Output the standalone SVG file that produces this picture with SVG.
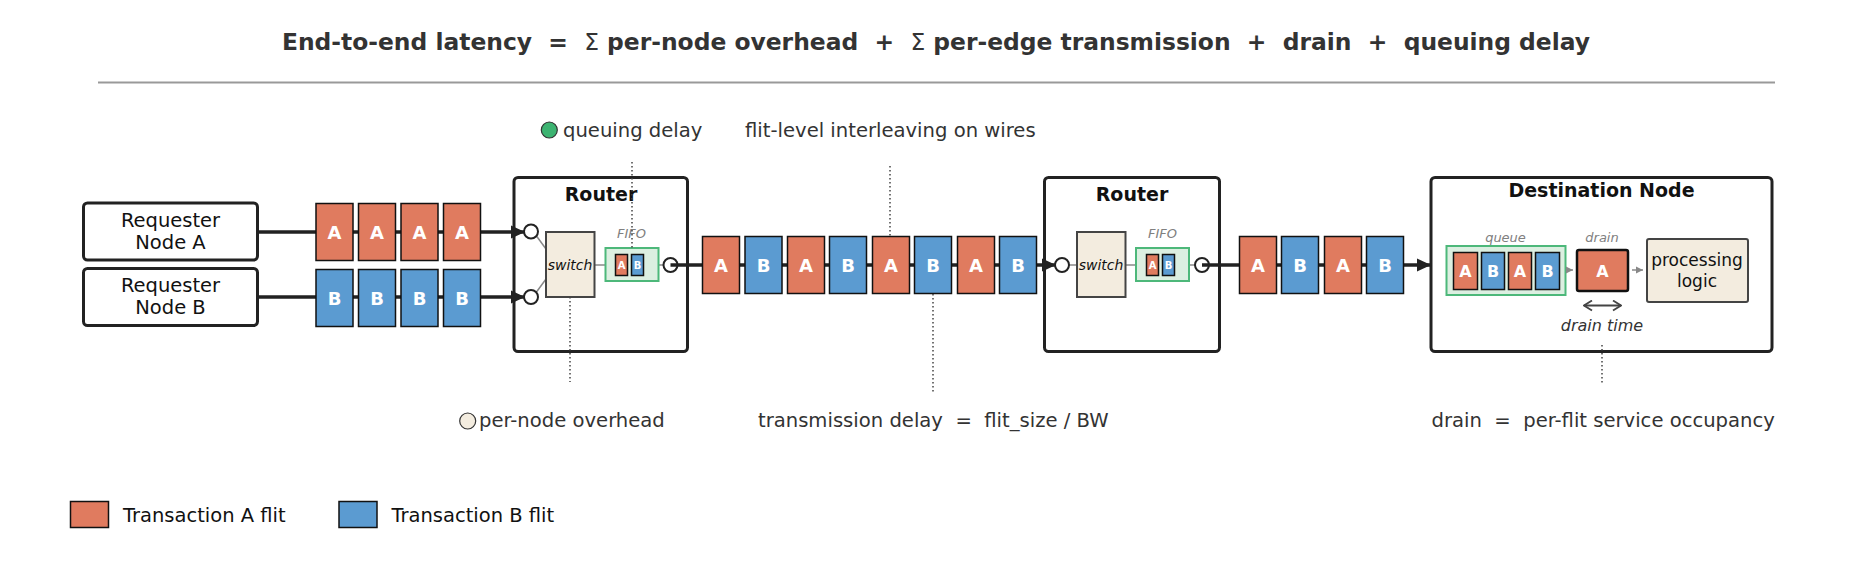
<svg xmlns="http://www.w3.org/2000/svg" width="1872" height="566" viewBox="0 0 1872 566">
<style>
text{font-family:"DejaVu Sans","Liberation Sans",sans-serif;}
.title{font-size:23.4px;font-weight:bold;fill:#333;}
.ann{font-size:19.6px;fill:#333;}
.box{fill:#fff;stroke:#222;stroke-width:3;}
.hdr{font-size:19px;font-weight:bold;fill:#111;}
.lbl{font-size:19.5px;fill:#111;}
.fa{fill:#E07B5F;stroke:#111;stroke-width:1.5;}
.fb{fill:#5B9BD1;stroke:#111;stroke-width:1.5;}
.ft{font-size:18px;font-weight:bold;fill:#fff;text-anchor:middle;}
.ftm{font-size:10px;font-weight:bold;fill:#fff;text-anchor:middle;}
.ftq{font-size:16px;font-weight:bold;fill:#fff;text-anchor:middle;}
.wire{stroke:#222;stroke-width:3.5;fill:none;}
.thin{stroke:#888;stroke-width:1.5;fill:none;}
.port{fill:#fff;stroke:#222;stroke-width:2;}
.sw{fill:#F3ECDF;stroke:#444;stroke-width:2;}
.fifo{fill:#DCEFE1;stroke:#4DB87A;stroke-width:2;}
.it{font-style:italic;font-size:13px;fill:#808080;text-anchor:middle;}
.dot{stroke:#444;stroke-width:1.5;stroke-dasharray:1.5 2.5;fill:none;}
</style>
<defs>
<marker id="ah" markerUnits="userSpaceOnUse" markerWidth="15" markerHeight="14" refX="14" refY="7" orient="auto"><path d="M0,0.5 L14,7 L0,13.5 z" fill="#222"/></marker>
<marker id="sh" markerUnits="userSpaceOnUse" markerWidth="8" markerHeight="8" refX="7" refY="4" orient="auto"><path d="M0,0.5 L7,4 L0,7.5 z" fill="#888"/></marker>
<marker id="oh" markerUnits="userSpaceOnUse" markerWidth="10" markerHeight="12" refX="9" refY="6" orient="auto-start-reverse"><path d="M1,1 L9,6 L1,11" fill="none" stroke="#444" stroke-width="1.8"/></marker>
</defs>

<g id="title">
<text class="title" x="936" y="50" text-anchor="middle" xml:space="preserve">End-to-end latency  =  <tspan font-weight="normal">Σ</tspan> per-node overhead  +  <tspan font-weight="normal">Σ</tspan> per-edge transmission  +  drain  +  queuing delay</text>
<line x1="98" y1="82.5" x2="1775" y2="82.5" stroke="#999" stroke-width="2"/>
</g>

<g id="requesterA">
<rect class="box" x="83.5" y="203" width="174" height="57" rx="4"/>
<text class="lbl" x="170.5" y="226.5" text-anchor="middle">Requester</text>
<text class="lbl" x="170.5" y="248.5" text-anchor="middle">Node A</text>
</g>
<g id="requesterB">
<rect class="box" x="83.5" y="268.5" width="174" height="57" rx="4"/>
<text class="lbl" x="170.5" y="292" text-anchor="middle">Requester</text>
<text class="lbl" x="170.5" y="314" text-anchor="middle">Node B</text>
</g>

<g id="router1">
<rect class="box" x="514" y="177.5" width="173.5" height="174" rx="4"/>
<text class="hdr" x="601" y="200.5" text-anchor="middle">Router</text>
<line class="thin" x1="536.5" y1="236" x2="546" y2="249"/>
<line class="thin" x1="536.5" y1="292" x2="546" y2="279"/>
<line class="thin" x1="594.5" y1="265" x2="605" y2="265"/>
<line class="thin" x1="658.5" y1="265" x2="663" y2="265"/>
<circle class="port" cx="531" cy="231.5" r="7"/>
<circle class="port" cx="531" cy="297" r="7"/>
<rect class="sw" x="546" y="232" width="48.5" height="65"/>
<text x="570" y="270" font-size="14" font-style="italic" fill="#111" text-anchor="middle">switch</text>
<text class="it" x="631.5" y="238">FIFO</text>
<rect class="fifo" x="605.5" y="248" width="53" height="33"/>
<rect class="fa" x="615.5" y="254.5" width="12" height="21"/><text class="ftm" x="621.5" y="268.5">A</text>
<rect class="fb" x="631.5" y="254.5" width="12" height="21"/><text class="ftm" x="637.5" y="268.5">B</text>
<circle class="port" cx="670.5" cy="265" r="7"/>
</g>

<g id="router2">
<rect class="box" x="1044.5" y="177.5" width="175" height="174" rx="4"/>
<text class="hdr" x="1132" y="200.5" text-anchor="middle">Router</text>
<line class="thin" x1="1069" y1="265" x2="1077" y2="265"/>
<line class="thin" x1="1125.5" y1="265" x2="1136" y2="265"/>
<line class="thin" x1="1189" y1="265" x2="1195" y2="265"/>
<circle class="port" cx="1062" cy="265" r="7"/>
<rect class="sw" x="1077" y="232" width="48.5" height="65"/>
<text x="1101" y="270" font-size="14" font-style="italic" fill="#111" text-anchor="middle">switch</text>
<text class="it" x="1162.5" y="238">FIFO</text>
<rect class="fifo" x="1136" y="248" width="53" height="33"/>
<rect class="fa" x="1146.5" y="254.5" width="12" height="21"/><text class="ftm" x="1152.5" y="268.5">A</text>
<rect class="fb" x="1162.5" y="254.5" width="12" height="21"/><text class="ftm" x="1168.5" y="268.5">B</text>
<circle class="port" cx="1202" cy="265" r="7"/>
</g>

<g id="destination">
<rect class="box" x="1431" y="177.5" width="341" height="174" rx="4"/>
<text class="hdr" x="1601.5" y="197" text-anchor="middle">Destination Node</text>
<text class="it" x="1505.5" y="241.5">queue</text>
<rect class="fifo" x="1446.5" y="246" width="119" height="49"/>
<rect class="fa" x="1453.5" y="252.5" width="24" height="37"/><text class="ftq" x="1465.5" y="276.5">A</text>
<rect class="fb" x="1481.5" y="252.5" width="23" height="37"/><text class="ftq" x="1493" y="276.5">B</text>
<rect class="fa" x="1508.5" y="252.5" width="23" height="37"/><text class="ftq" x="1520" y="276.5">A</text>
<rect class="fb" x="1535.5" y="252.5" width="24" height="37"/><text class="ftq" x="1547.5" y="276.5">B</text>
<line class="thin" x1="1566" y1="270" x2="1573" y2="270" marker-end="url(#sh)"/>
<text class="it" x="1602" y="241.5">drain</text>
<rect x="1577" y="250" width="51" height="41" rx="2" fill="#E07B5F" stroke="#111" stroke-width="2.5"/>
<text class="ftq" x="1602.5" y="276.5">A</text>
<line class="thin" x1="1632" y1="270" x2="1643" y2="270" marker-end="url(#sh)"/>
<rect class="sw" x="1647" y="239" width="101" height="63" rx="2" stroke="#333"/>
<text x="1697" y="266" font-size="17" fill="#111" text-anchor="middle">processing</text>
<text x="1697" y="287" font-size="17" fill="#111" text-anchor="middle">logic</text>
<line x1="1584" y1="305.5" x2="1621" y2="305.5" stroke="#444" stroke-width="1.8" marker-start="url(#oh)" marker-end="url(#oh)"/>
<text x="1602" y="331" font-size="16" font-style="italic" fill="#333" text-anchor="middle">drain time</text>
</g>

<g id="connectors">
<line class="wire" x1="257" y1="232" x2="525" y2="232" marker-end="url(#ah)"/>
<line class="wire" x1="257" y1="297" x2="525" y2="297" marker-end="url(#ah)"/>
<line class="wire" x1="670.5" y1="265" x2="1056" y2="265" marker-end="url(#ah)"/>
<line class="wire" x1="1202" y1="265" x2="1431" y2="265" marker-end="url(#ah)"/>
</g>

<g id="flitsA">
<rect class="fa" x="316" y="203.5" width="37" height="57"/><text class="ft" x="334.5" y="238.5">A</text>
<rect class="fa" x="358.5" y="203.5" width="37" height="57"/><text class="ft" x="377" y="238.5">A</text>
<rect class="fa" x="401" y="203.5" width="37" height="57"/><text class="ft" x="419.5" y="238.5">A</text>
<rect class="fa" x="443.5" y="203.5" width="37" height="57"/><text class="ft" x="462" y="238.5">A</text>
</g>
<g id="flitsB">
<rect class="fb" x="316" y="269.5" width="37" height="57"/><text class="ft" x="334.5" y="304.5">B</text>
<rect class="fb" x="358.5" y="269.5" width="37" height="57"/><text class="ft" x="377" y="304.5">B</text>
<rect class="fb" x="401" y="269.5" width="37" height="57"/><text class="ft" x="419.5" y="304.5">B</text>
<rect class="fb" x="443.5" y="269.5" width="37" height="57"/><text class="ft" x="462" y="304.5">B</text>
</g>

<g id="flitsMid">
<rect class="fa" x="702.5" y="236.5" width="37" height="57"/><text class="ft" x="721" y="271.5">A</text>
<rect class="fb" x="745" y="236.5" width="37" height="57"/><text class="ft" x="763.5" y="271.5">B</text>
<rect class="fa" x="787.5" y="236.5" width="37" height="57"/><text class="ft" x="806" y="271.5">A</text>
<rect class="fb" x="829.5" y="236.5" width="37" height="57"/><text class="ft" x="848" y="271.5">B</text>
<rect class="fa" x="872.5" y="236.5" width="37" height="57"/><text class="ft" x="891" y="271.5">A</text>
<rect class="fb" x="914.5" y="236.5" width="37" height="57"/><text class="ft" x="933" y="271.5">B</text>
<rect class="fa" x="957.5" y="236.5" width="37" height="57"/><text class="ft" x="976" y="271.5">A</text>
<rect class="fb" x="999.5" y="236.5" width="37" height="57"/><text class="ft" x="1018" y="271.5">B</text>
</g>

<g id="flitsRight">
<rect class="fa" x="1239.5" y="236.5" width="37" height="57"/><text class="ft" x="1258" y="271.5">A</text>
<rect class="fb" x="1281.5" y="236.5" width="37" height="57"/><text class="ft" x="1300" y="271.5">B</text>
<rect class="fa" x="1324.5" y="236.5" width="37" height="57"/><text class="ft" x="1343" y="271.5">A</text>
<rect class="fb" x="1366.5" y="236.5" width="37" height="57"/><text class="ft" x="1385" y="271.5">B</text>
</g>

<g id="annotations">
<line class="dot" x1="632" y1="162" x2="632" y2="248"/>
<line class="dot" x1="570" y1="297" x2="570" y2="382"/>
<line class="dot" x1="890" y1="166" x2="890" y2="236"/>
<line class="dot" x1="933" y1="294" x2="933" y2="392"/>
<line class="dot" x1="1602" y1="345" x2="1602" y2="385"/>
<circle cx="549.3" cy="130" r="8" fill="#3CB371" stroke="#333" stroke-width="1.2"/>
<text class="ann" x="563" y="136.5">queuing delay</text>
<text class="ann" x="745" y="136.5">flit-level interleaving on wires</text>
<circle cx="467.7" cy="421" r="8" fill="#F3ECDF" stroke="#333" stroke-width="1.2"/>
<text class="ann" x="479" y="427">per-node overhead</text>
<text class="ann" x="758" y="427" xml:space="preserve">transmission delay  =  flit_size / BW</text>
<text class="ann" x="1431.5" y="427" xml:space="preserve">drain  =  per-flit service occupancy</text>
</g>

<g id="legend">
<rect class="fa" x="70.5" y="501.5" width="38" height="26"/>
<text class="lbl" x="123" y="521.5">Transaction A flit</text>
<rect class="fb" x="339" y="501.5" width="38" height="26"/>
<text class="lbl" x="391.5" y="521.5">Transaction B flit</text>
</g>
</svg>
